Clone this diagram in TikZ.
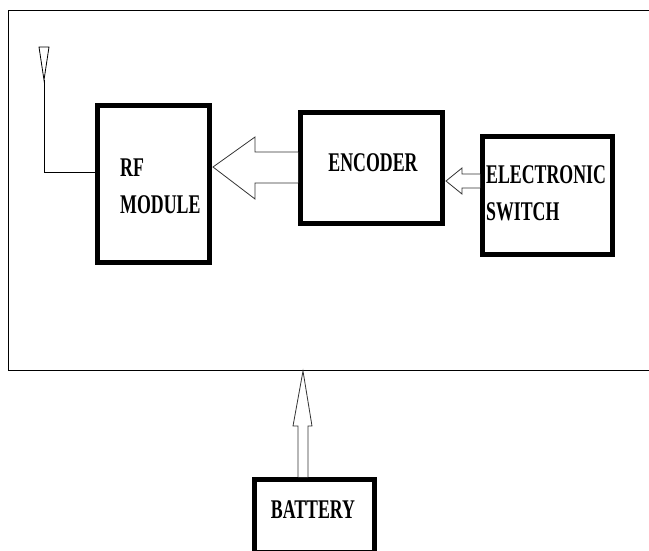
\documentclass[tikz,border=0pt]{standalone}
\usepackage{fontspec}
\usepackage{graphicx}
\setmainfont{Liberation Serif}
\newcommand{\sqz}[1]{\scalebox{0.66}[1]{\bfseries #1}}
\begin{document}
\begin{tikzpicture}[x=1pt,y=-1pt,
  blk/.style={draw=black,line width=5pt,fill=white},
  lbl/.style={font=\fontsize{27}{36}\selectfont,inner sep=0pt,align=left},
  thin/.style={draw=black,line width=1pt},
  fatarrow/.style={draw=black!80,line width=0.8pt,fill=white,line join=miter}]
\useasboundingbox (0,0) rectangle (649,550);
% outer frame (open on the right)
\draw[thin] (649,10) -- (8,10) -- (8,370) -- (649,370);
% blocks
\draw[blk] (97.5,105.5) rectangle (209.5,262.5);
\coordinate (rfl) at (97.5,172);
\node[lbl,anchor=west] (rf) at (120,186) {\sqz{RF}\\[1pt]\sqz{MODULE}};
\draw[blk] (300.5,112.5) rectangle (442.5,223.5);
\node[lbl] (enc) at (373,163) {\sqz{ENCODER}};
\draw[blk] (482.5,136.5) rectangle (612.5,254.5);
\node[lbl,anchor=west] (es) at (486,193) {\sqz{ELECTRONIC}\\[1pt]\sqz{SWITCH}};
\draw[blk] (254.5,479.5) rectangle (374.5,552);
\node[lbl] (bat) at (313,510) {\sqz{BATTERY}};
% antenna
\coordinate (antT) at (44,80);
\coordinate (antC) at (44,172);
\draw[thin,line width=0.8pt] (39,47) -- (49,47) -- (antT) -- cycle;
\draw[thin] (antT) -- (antC) -- (rfl);
% big arrow encoder -> rf
\draw[fatarrow] (298,152) -- (255,152) -- (255,137) -- (213,167) -- (255,199) -- (255,183) -- (298,183);
% small arrow switch -> encoder
\draw[fatarrow] (480,174) -- (462,174) -- (462,168) -- (446,181) -- (462,194) -- (462,188) -- (480,188);
% battery arrow
\draw[fatarrow] (298,477) -- (298,426) -- (293,426) -- (303,371) -- (312,426) -- (308,426) -- (308,477);
\end{tikzpicture}
\end{document}
